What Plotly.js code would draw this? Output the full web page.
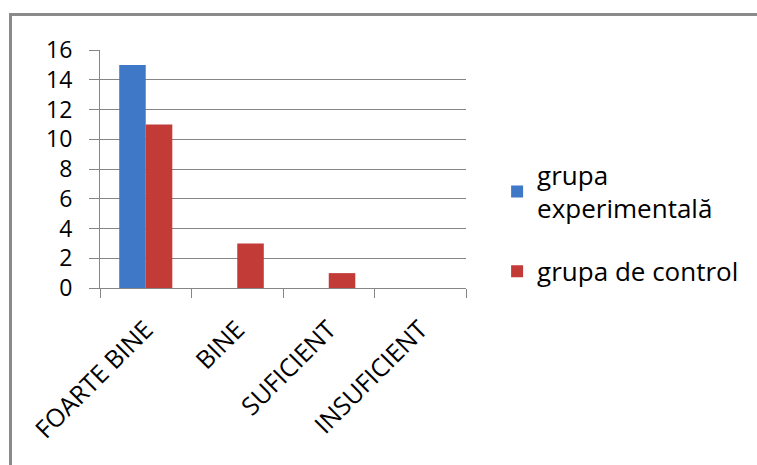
<!DOCTYPE html>
<html>
<head>
<meta charset="utf-8">
<script src="https://cdn.plot.ly/plotly-3.0.1.min.js"></script>
<style>
  html, body { margin: 0; padding: 0; background: #ffffff; }
  #wrap { position: relative; width: 757px; height: 465px; }
  #chart { width: 757px; height: 465px; }
  #frame { position: absolute; left: 9px; top: 13px; width: 760px; height: 470px;
           border-top: 3px solid #8a8a8a; border-left: 3px solid #8a8a8a;
           pointer-events: none; box-sizing: border-box; }
</style>
</head>
<body>
<div id="wrap">
  <div id="chart"></div>
  <div id="frame"></div>
</div>
<script>
const categories = ["FOARTE BINE", "BINE", "SUFICIENT", "INSUFICIENT"];
const experimental = [15, 0, 0, 0];
const control = [11, 3, 1, 0];
const seriesNames = ["grupa<br>experimentală", "grupa de control"];
const yTicks = [0, 2, 4, 6, 8, 10, 12, 14, 16];

const font = "'Open Sans', 'Liberation Sans', sans-serif";

const traces = [
  {
    type: "bar", x: categories, y: experimental, name: seriesNames[0],
    legendgroup: "a",
    marker: { color: "#3f78c6", line: { color: "#2a5590", width: 0 } }
  },
  {
    type: "bar", x: categories, y: control, name: seriesNames[1],
    legendgroup: "b",
    marker: { color: "#c23b36", line: { color: "#8e2422", width: 0 } }
  }
];

const layout = {
  width: 757, height: 465,
  margin: { l: 100, r: 291, t: 50, b: 177 },
  paper_bgcolor: "#ffffff", plot_bgcolor: "#ffffff",
  barmode: "group", bargap: 0.42, bargroupgap: 0,
  font: { family: font, color: "#000000", size: 24 },
  showlegend: true,
  legend: {
    x: 1.085, xanchor: "left", y: 0.575, yanchor: "top",
    font: { family: font, size: 26, color: "#000000" },
    tracegroupgap: 26, itemwidth: 30, bgcolor: "rgba(0,0,0,0)"
  },
  xaxis: {
    type: "category", tickangle: -45, tickson: "boundaries",
    ticks: "outside", ticklen: 9, tickcolor: "#868686", tickwidth: 1,
    showline: true, linecolor: "#868686", linewidth: 1,
    showgrid: false, zeroline: false,
    tickfont: { family: font, size: 25, color: "#000000" },
    ticklabelstandoff: 16
  },
  yaxis: {
    range: [0, 16], tickvals: yTicks, ticktext: yTicks.map(String),
    ticks: "outside", ticklen: 10, tickcolor: "#868686", tickwidth: 1,
    showline: true, linecolor: "#868686", linewidth: 1,
    showgrid: true, gridcolor: "#868686", gridwidth: 1,
    zeroline: false,
    tickfont: { family: font, size: 23, color: "#000000" },
    ticklabelstandoff: 12
  }
};

Plotly.newPlot("chart", traces, layout, { displayModeBar: false, staticPlot: true });
</script>
</body>
</html>
